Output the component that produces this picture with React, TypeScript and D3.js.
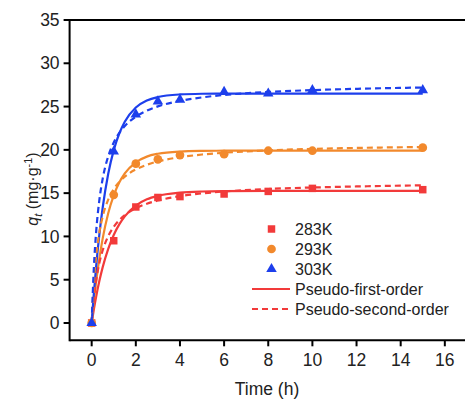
import React from "react";
import * as d3 from "d3";

const times = [0, 1, 2, 3, 4, 6, 8, 10, 15];
const q283 = [0, 9.5, 13.4, 14.5, 14.6, 14.9, 15.2, 15.55, 15.4];
const q293 = [0, 14.8, 18.4, 18.9, 19.4, 19.5, 19.9, 19.9, 20.25];
const q303 = [0, 19.8, 24.1, 25.6, 25.8, 26.7, 26.5, 26.9, 26.9];

const fitTimes = [0, 0.1, 0.2, 0.35, 0.5, 0.75, 1, 1.25, 1.5, 2, 2.5, 3, 4, 5, 6, 8, 10, 12, 15];
const pfo283 = [0, 1.59, 3.01, 4.87, 6.45, 8.57, 10.17, 11.39, 12.32, 13.56, 14.28, 14.69, 15.06, 15.19, 15.23, 15.25, 15.25, 15.25, 15.25];
const pso283 = [0, 2.85, 4.85, 6.95, 8.4, 10.03, 11.11, 11.88, 12.45, 13.25, 13.78, 14.15, 14.66, 14.97, 15.19, 15.48, 15.65, 15.77, 15.9];
const pfo293 = [0, 2.51, 4.71, 7.49, 9.77, 12.67, 14.74, 16.22, 17.27, 18.56, 19.22, 19.55, 19.81, 19.88, 19.9, 19.9, 19.9, 19.9, 19.9];
const pso293 = [0, 4.68, 7.64, 10.48, 12.31, 14.25, 15.47, 16.3, 16.91, 17.74, 18.28, 18.66, 19.15, 19.46, 19.67, 19.94, 20.11, 20.22, 20.33];
const pfo303 = [0, 3.46, 6.47, 10.27, 13.34, 17.23, 19.97, 21.89, 23.25, 24.89, 25.7, 26.1, 26.4, 26.48, 26.5, 26.5, 26.5, 26.5, 26.5];
const pso303 = [0, 6.42, 10.43, 14.24, 16.68, 19.25, 20.85, 21.95, 22.75, 23.83, 24.53, 25.02, 25.66, 26.06, 26.34, 26.69, 26.9, 27.05, 27.2];

const xTicks = [0, 2, 4, 6, 8, 10, 12, 14, 16];
const yTicks = [0, 5, 10, 15, 20, 25, 30, 35];

const seriesNames = ["283K", "293K", "303K"];
const colors = ["#f23a3a", "#f2892c", "#1d3fec"];
const symbols = [d3.symbolSquare, d3.symbolCircle, d3.symbolTriangle];
const symbolSizes = [56, 60, 48];
const lineNames = ["Pseudo-first-order", "Pseudo-second-order"];

export default function App() {
  const W = 465;
  const H = 400;
  const x = d3.scaleLinear().domain([-1, 17]).range([69.6, 466.9]);
  const y = d3.scaleLinear().domain([-2, 35]).range([340.3, 20]);
  const font = "Arial, 'Liberation Sans', sans-serif";

  const obs = [q283, q293, q303];
  const pfo = [pfo283, pfo293, pfo303];
  const pso = [pso283, pso293, pso303];

  const line = d3
    .line<number>()
    .x((_, i) => x(fitTimes[i]))
    .y((d) => y(d))
    .curve(d3.curveMonotoneX);

  const left = x.range()[0];
  const bottom = y.range()[0];
  const top = y.range()[1];

  return (
    <svg
      width={W}
      height={H}
      style={{ position: "absolute", left: 0, top: 0, background: "#fff" }}
      fontFamily={font}
    >
      {pfo.map((s, k) => (
        <path key={"pfo" + k} d={line(s) || ""} fill="none" stroke={colors[k]} strokeWidth={2.2} />
      ))}
      {pso.map((s, k) => (
        <path
          key={"pso" + k}
          d={line(s) || ""}
          fill="none"
          stroke={colors[k]}
          strokeWidth={2.2}
          strokeDasharray="6,4"
        />
      ))}
      {obs.map((s, k) =>
        s.map((v, i) => (
          <path
            key={"m" + k + "-" + i}
            d={d3.symbol().type(symbols[k]).size(symbolSizes[k])() || ""}
            transform={`translate(${x(times[i])},${y(v)})`}
            fill={colors[k]}
          />
        ))
      )}
      <line x1={left} x2={W} y1={top} y2={top} stroke="#000" strokeWidth={2} />
      <line x1={left} x2={W} y1={bottom} y2={bottom} stroke="#000" strokeWidth={2} />
      <line x1={left} x2={left} y1={top - 1} y2={bottom + 1} stroke="#000" strokeWidth={2} />
      {yTicks.map((t) => (
        <g key={"yt" + t}>
          <line x1={left - 6} x2={left} y1={y(t)} y2={y(t)} stroke="#000" strokeWidth={2} />
          <text x={left - 10} y={y(t)} dy="0.35em" textAnchor="end" fontSize={17.5} fill="#222">
            {t}
          </text>
        </g>
      ))}
      {xTicks.map((t) => (
        <g key={"xt" + t}>
          <line x1={x(t)} x2={x(t)} y1={bottom} y2={bottom + 6} stroke="#000" strokeWidth={2} />
          <text x={x(t)} y={366} textAnchor="middle" fontSize={17.5} fill="#222">
            {t}
          </text>
        </g>
      ))}
      <text x={267} y={395} textAnchor="middle" fontSize={17.5} fill="#222">
        Time (h)
      </text>
      <text transform="translate(38,189) rotate(-90)" textAnchor="middle" fontSize={16} fill="#222">
        <tspan fontStyle="italic">q</tspan>
        <tspan fontStyle="italic" fontSize={11} dy={4}>t</tspan>
        <tspan dy={-4}> (mg·g</tspan>
        <tspan fontSize={11} dy={-6}>-1</tspan>
        <tspan dy={6}>)</tspan>
      </text>
      {seriesNames.map((n, k) => (
        <g key={"lg" + k}>
          <path
            d={d3.symbol().type(symbols[k]).size(symbolSizes[k])() || ""}
            transform={`translate(271.5,${229 + k * 20})`}
            fill={colors[k]}
          />
          <text x={295} y={229 + k * 20} dy="0.35em" fontSize={16} fill="#222">
            {n}
          </text>
        </g>
      ))}
      {lineNames.map((n, k) => (
        <g key={"ll" + k}>
          <line
            x1={252}
            x2={290}
            y1={289 + k * 20}
            y2={289 + k * 20}
            stroke={colors[0]}
            strokeWidth={2}
            strokeDasharray={k === 1 ? "6,4" : undefined}
          />
          <text x={295} y={289 + k * 20} dy="0.35em" fontSize={16} fill="#222">
            {n}
          </text>
        </g>
      ))}
    </svg>
  );
}
